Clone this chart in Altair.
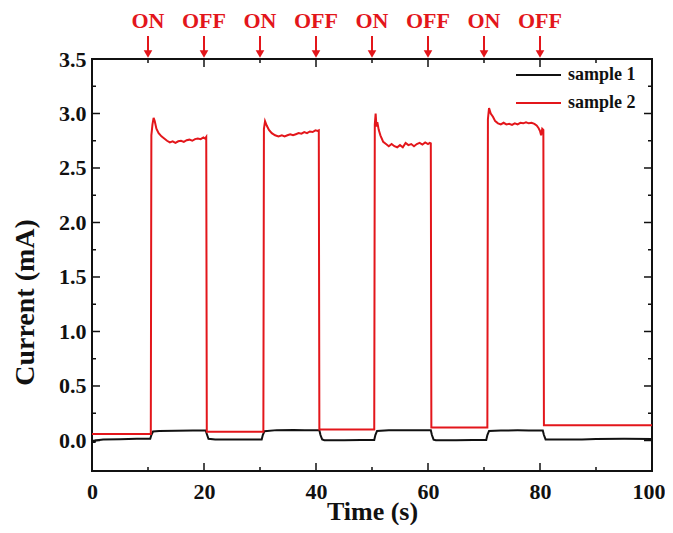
import altair as alt
import pandas as pd

# ---- data ----
s1_time = [0, 0.5, 0.6, 2, 5, 8, 10.4, 10.6, 10.9, 12, 15, 18, 20.3, 20.5, 20.8, 22, 25, 28,
           30.3, 30.5, 30.8, 33, 36, 38, 40.6, 40.8, 41.1, 41.5, 45, 48, 50.4, 50.6, 50.9, 53,
           56, 58, 60.5, 60.7, 61.0, 61.4, 65, 68, 70.4, 70.6, 70.9, 73, 76, 78, 80.5, 80.7,
           81.0, 84, 87.5, 90, 95, 100]
s1_current = [-0.015, -0.015, 0.0, 0.008, 0.012, 0.015, 0.015, 0.05, 0.082, 0.088, 0.09, 0.092,
              0.092, 0.06, 0.015, 0.01, 0.008, 0.008, 0.01, 0.05, 0.085, 0.095, 0.097, 0.095,
              0.094, 0.05, 0.01, 0.003, 0.002, 0.004, 0.005, 0.05, 0.088, 0.093, 0.095, 0.094,
              0.094, 0.05, 0.008, 0.002, 0.003, 0.004, 0.005, 0.05, 0.088, 0.092, 0.093, 0.092,
              0.092, 0.05, 0.01, 0.008, 0.01, 0.014, 0.015, 0.014]

s2_time = [0, 10.5,
           10.6, 10.8, 11.0, 11.2, 11.5, 11.9, 12.4, 12.9, 13.4, 13.9, 14.4, 14.9, 15.4, 15.9,
           16.4, 16.9, 17.4, 17.9, 18.4, 18.9, 19.4, 19.9, 20.2, 20.4, 20.5,
           30.6,
           30.7, 30.9, 31.2, 31.6, 32.1, 32.7, 33.3, 33.9, 34.4, 34.9, 35.4, 35.9, 36.4, 36.9,
           37.4, 37.9, 38.4, 38.9, 39.4, 39.9, 40.3, 40.5, 40.6,
           50.4,
           50.5, 50.65, 50.8, 50.95, 51.2, 51.5, 52.0, 52.5, 53.0, 53.5, 54.0, 54.5, 55.0, 55.5,
           56.0, 56.5, 57.0, 57.5, 58.0, 58.5, 59.0, 59.5, 60.0, 60.3, 60.5, 60.6,
           70.6,
           70.7, 70.9, 71.2, 71.6, 72.0, 72.5, 73.0, 73.5, 74.0, 74.5, 75.0, 75.5, 76.0, 76.5,
           77.0, 77.5, 78.0, 78.5, 79.0, 79.4, 79.7, 80.0, 80.2, 80.4, 80.6, 80.7,
           100]
s2_current = [0.06, 0.06,
              2.80, 2.90, 2.96, 2.93, 2.86, 2.82, 2.79, 2.77, 2.75, 2.735, 2.745, 2.73, 2.745, 2.75,
              2.74, 2.755, 2.76, 2.75, 2.765, 2.77, 2.765, 2.78, 2.77, 2.785, 0.08,
              0.08,
              2.86, 2.93, 2.89, 2.85, 2.82, 2.80, 2.79, 2.80, 2.79, 2.80, 2.81, 2.80, 2.81, 2.82,
              2.815, 2.83, 2.82, 2.835, 2.83, 2.845, 2.84, 2.845, 0.10,
              0.10,
              2.90, 3.00, 2.88, 2.92, 2.85, 2.80, 2.74, 2.72, 2.70, 2.72, 2.70, 2.69, 2.71, 2.69,
              2.73, 2.71, 2.72, 2.70, 2.72, 2.73, 2.715, 2.735, 2.72, 2.73, 2.725, 0.12,
              0.12,
              2.95, 3.05, 3.00, 2.97, 2.93, 2.91, 2.90, 2.915, 2.90, 2.905, 2.895, 2.91, 2.90, 2.915,
              2.91, 2.92, 2.91, 2.915, 2.905, 2.89, 2.87, 2.84, 2.80, 2.86, 2.85, 0.14,
              0.14]

series_names = ["sample 1", "sample 2"]
series_colors = ["#111111", "#e3161b"]

event_time = [10, 20, 30, 40, 50, 60, 70, 80]
event_label = ["ON", "OFF", "ON", "OFF", "ON", "OFF", "ON", "OFF"]

x_major = [0, 20, 40, 60, 80, 100]
x_minor = [10, 30, 50, 70, 90]
y_major = [0.0, 0.5, 1.0, 1.5, 2.0, 2.5, 3.0, 3.5]
y_minor = [0.25, 0.75, 1.25, 1.75, 2.25, 2.75, 3.25]

# ---- build tables ----
df = pd.concat([
    pd.DataFrame({"t": s1_time, "v": s1_current, "series": series_names[0],
                  "idx": range(len(s1_time))}),
    pd.DataFrame({"t": s2_time, "v": s2_current, "series": series_names[1],
                  "idx": range(len(s2_time))}),
], ignore_index=True)

events = pd.DataFrame({"t": event_time, "label": event_label})
xmaj = pd.DataFrame({"t": x_major})
xmin = pd.DataFrame({"t": x_minor})
ymaj = pd.DataFrame({"v": y_major})
ymin = pd.DataFrame({"v": y_minor})

W, H = 560, 412
FONT = "Liberation Serif"
RED = "#e3161b"

x_scale = alt.Scale(domain=[0, 100], nice=False, zero=False)
y_scale = alt.Scale(domain=[-0.28, 3.5], nice=False, zero=False)

lines = alt.Chart(df).mark_line(strokeWidth=2).encode(
    x=alt.X("t:Q", scale=x_scale,
            axis=alt.Axis(values=x_major, format="d", title="Time (s)", grid=False,
                          domain=False, ticks=False, labelFlush=False,
                          labelAlign={"condition": {"test": "datum.value >= 100",
                                                    "value": "right"},
                                      "value": "center"},
                          labelOffset={"condition": {"test": "datum.value >= 100",
                                                     "value": 13},
                                       "value": 0},
                          labelFont=FONT, labelFontWeight="bold", labelFontSize=22,
                          labelPadding=10, labelColor="#111",
                          titleFont=FONT, titleFontWeight="bold", titleFontSize=26,
                          titleBaseline="alphabetic", titleY=48, titleColor="#111")),
    y=alt.Y("v:Q", scale=y_scale,
            axis=alt.Axis(values=y_major, format=".1f", title="Current (mA)", grid=False,
                          domain=False, ticks=False,
                          labelFont=FONT, labelFontWeight="bold", labelFontSize=22,
                          labelPadding=6, labelColor="#111",
                          titleFont=FONT, titleFontWeight="bold", titleFontSize=28,
                          titlePadding=19, titleY=243, titleColor="#111")),
    color=alt.Color("series:N", title=None,
                    scale=alt.Scale(domain=series_names, range=series_colors),
                    legend=alt.Legend(orient="none", legendX=423, legendY=4,
                                      symbolType="stroke", symbolSize=2025,
                                      symbolStrokeWidth=2, labelFont=FONT,
                                      labelFontWeight="bold", labelFontSize=18,
                                      labelColor="#111", labelOffset=6,
                                      clipHeight=24, rowPadding=4, padding=0)),
    order=alt.Order("idx:Q"),
)

def xticks(data, length, top):
    if top:
        yy, yy2 = alt.value(0), alt.value(length)
    else:
        yy, yy2 = alt.value(H), alt.value(H - length)
    return alt.Chart(data).mark_rule(color="#111", strokeWidth=1.5).encode(
        x=alt.X("t:Q"), y=yy, y2=yy2)

def yticks(data, length, right):
    if right:
        xx, xx2 = alt.value(W), alt.value(W - length)
    else:
        xx, xx2 = alt.value(0), alt.value(length)
    return alt.Chart(data).mark_rule(color="#111", strokeWidth=1.5).encode(
        y=alt.Y("v:Q"), x=xx, x2=xx2)

tick_layers = [
    xticks(xmaj, 8, False), xticks(xmin, 4, False),
    xticks(xmaj, 8, True), xticks(xmin, 4, True),
    yticks(ymaj, 8, False), yticks(ymin, 4, False),
    yticks(ymaj, 8, True), yticks(ymin, 4, True),
]

ev_text = alt.Chart(events).mark_text(
    font=FONT, fontWeight="bold", fontSize=22, color=RED, align="center",
    baseline="alphabetic").encode(
    x=alt.X("t:Q"), y=alt.value(-31), text="label:N")

ev_shaft = alt.Chart(events).mark_rule(color=RED, strokeWidth=2).encode(
    x=alt.X("t:Q"), y=alt.value(-23), y2=alt.value(-8))

ev_head = alt.Chart(events).mark_point(
    shape="triangle-down", filled=True, color=RED, size=75, opacity=1).encode(
    x=alt.X("t:Q"), y=alt.value(-5))

chart = alt.layer(lines, *tick_layers, ev_shaft, ev_head, ev_text).properties(
    width=W, height=H,
    autosize=alt.AutoSizeParams(type="none"),
    padding={"left": 84, "top": 51, "right": 13, "bottom": 54},
    background="white",
).configure_view(stroke="#111", strokeWidth=2)

chart.save("out.html", embed_options={"renderer": "svg", "actions": False})
